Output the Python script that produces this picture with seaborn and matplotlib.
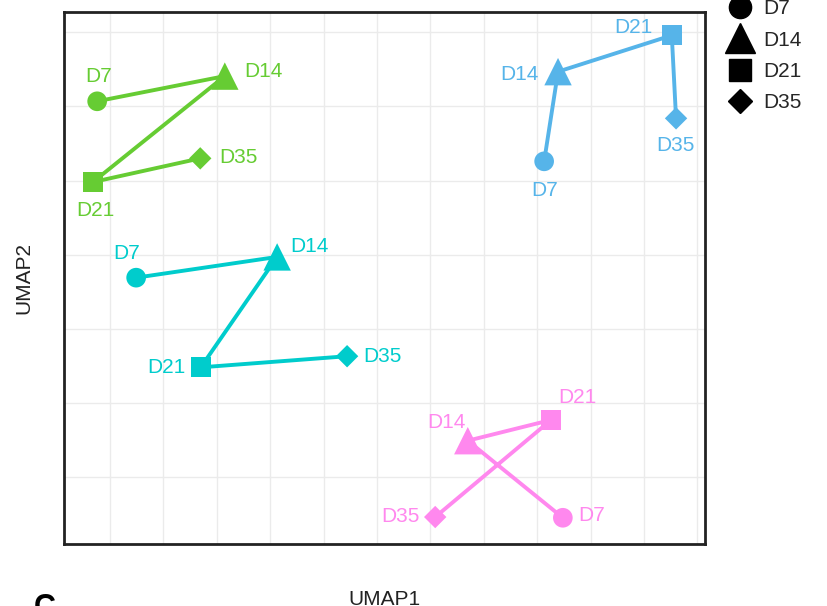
import numpy as np
import pandas as pd
import seaborn as sns
import matplotlib.pyplot as plt
from matplotlib.lines import Line2D

# UMAP embedding of each group's samples across time points
days = ["D7", "D14", "D21", "D35"]
groups = ["G1", "G2", "G3", "G4"]
group_colors = ["#66CC33", "#00CCCC", "#56B4E9", "#FF88EE"]

umap1_g1 = [-5.24, -2.85, -5.32, -3.31]
umap2_g1 = [2.07, 2.41, 0.98, 1.30]
umap1_g2 = [-4.51, -1.87, -3.30, -0.56]
umap2_g2 = [-0.31, -0.03, -1.52, -1.37]
umap1_g3 = [3.13, 3.39, 5.52, 5.60]
umap2_g3 = [1.26, 2.47, 2.96, 1.84]
umap1_g4 = [3.48, 1.70, 3.26, 1.09]
umap2_g4 = [-3.55, -2.51, -2.23, -3.54]

rows = []
for g, xs, ys in zip(groups,
                     [umap1_g1, umap1_g2, umap1_g3, umap1_g4],
                     [umap2_g1, umap2_g2, umap2_g3, umap2_g4]):
    for d, x, y in zip(days, xs, ys):
        rows.append({"group": g, "day": d, "UMAP1": x, "UMAP2": y})
df = pd.DataFrame(rows)

# label offsets (pixels: right, down) for each point's day tag
label_offsets = {
    ("G1", "D7"): (1, -25), ("G1", "D14"): (39, -5), ("G1", "D21"): (2, 28), ("G1", "D35"): (38, -1),
    ("G2", "D7"): (-10, -24), ("G2", "D14"): (32, -10), ("G2", "D21"): (-34, 0), ("G2", "D35"): (35, 0),
    ("G3", "D7"): (0, 29), ("G3", "D14"): (-39, 3), ("G3", "D21"): (-38, -8), ("G3", "D35"): (-1, 27),
    ("G4", "D7"): (29, -2), ("G4", "D14"): (-21, -18), ("G4", "D21"): (26, -22), ("G4", "D35"): (-35, -1),
}

sns.set_theme(style="white")
plt.rcParams["font.family"] = ["Liberation Sans", "DejaVu Sans"]

fig = plt.figure(figsize=(8.28, 6.06), dpi=100)
ax = fig.add_axes([64 / 828, 1 - 544 / 606, (705 - 64) / 828, (544 - 12) / 606])

palette = dict(zip(groups, group_colors))
markers = {"D7": "o", "D14": "^", "D21": "s", "D35": "D"}
sizes = {"D7": 200, "D14": 390, "D21": 205, "D35": 130}

for g in groups:
    sub = df[df["group"] == g]
    sns.lineplot(data=sub, x="UMAP1", y="UMAP2", sort=False, color=palette[g],
                 linewidth=2.8, ax=ax, legend=False, zorder=3)
    for _, r in sub.iterrows():
        ax.scatter(r["UMAP1"], r["UMAP2"], marker=markers[r["day"]], s=sizes[r["day"]],
                   color=palette[g], edgecolor="none", zorder=4)
        dx, dy = label_offsets[(g, r["day"])]
        ax.annotate(r["day"], (r["UMAP1"], r["UMAP2"]), xytext=(dx * 0.72, -dy * 0.72),
                    textcoords="offset points", ha="center", va="center",
                    fontsize=15, color=palette[g], zorder=5)

ax.set_xlim(-5.861, 6.142)
ax.set_ylim(-3.904, 3.275)
ax.set_xticks(np.arange(-5, 7, 1))
ax.set_yticks(np.arange(-3, 4, 1))
ax.tick_params(left=False, bottom=False, labelleft=False, labelbottom=False)
ax.grid(True, color="#EBEBEB", linewidth=1.0)
ax.set_axisbelow(True)
for sp in ax.spines.values():
    sp.set_color("#222222")
    sp.set_linewidth(2.0)

ax.set_xlabel("UMAP1", fontsize=15, color="#222222", labelpad=33)
ax.set_ylabel("UMAP2", fontsize=15, color="#222222", labelpad=22)

handles = [Line2D([], [], linestyle="none", marker=markers[d], color="black",
                  markersize={"D7": 16, "D14": 21, "D21": 15.5, "D35": 12.5}[d]) for d in days]
fig.legend(handles, days, loc="upper left", bbox_to_anchor=(728 / 828, 1 + 1 / 606),
           frameon=False, fontsize=15, handlelength=1.2, handletextpad=0.5,
           labelspacing=0.6, borderpad=0, borderaxespad=0)

fig.text(45 / 828, 1 - 593 / 606, "C", fontsize=22, fontweight="bold",
         ha="center", va="top", color="black")

fig.savefig("out.png", dpi=100)
